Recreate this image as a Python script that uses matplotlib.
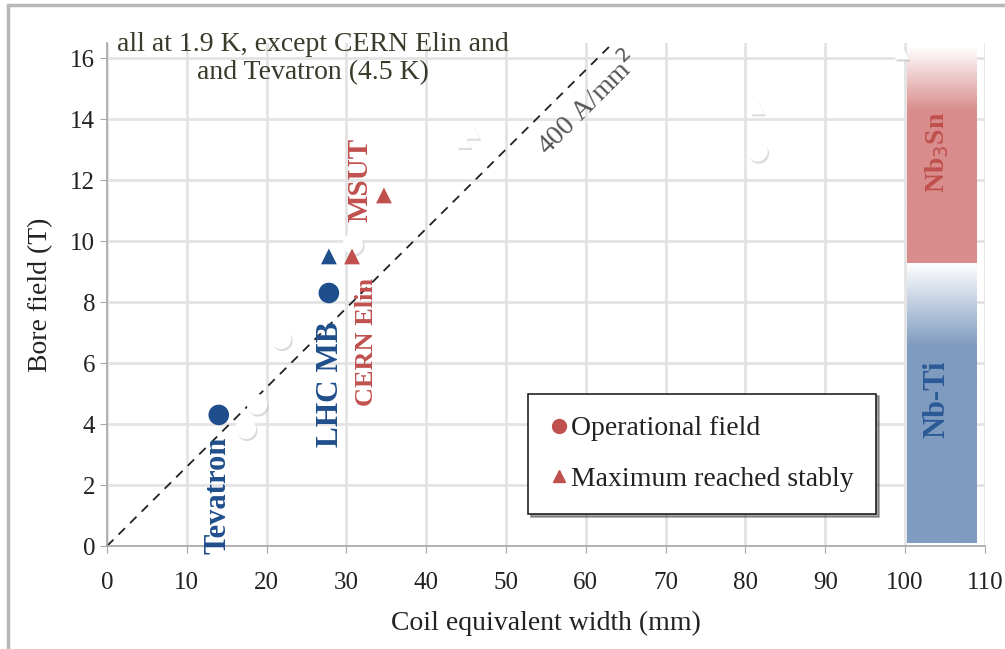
import matplotlib
matplotlib.use("Agg")
import matplotlib.pyplot as plt
import matplotlib.patheffects as pe
from matplotlib.colors import LinearSegmentedColormap
from matplotlib.lines import Line2D
from matplotlib.patches import Rectangle
import numpy as np

plt.rcParams['font.family'] = ['Liberation Serif', 'DejaVu Serif']

# highlighted magnets (coil width mm, bore field T)
op_x = [14.0, 27.8]          # Tevatron, LHC MB operational field
op_y = [4.3, 8.3]
op_col = ['#1F4E8C', '#1F4E8C']
max_x = [27.8, 30.7, 34.7]   # LHC MB, CERN Elin, MSUT max reached
max_y = [9.5, 9.5, 11.5]
max_col = ['#1F4E8C', '#C0504D', '#C0504D']

# faded (other magnets)
ghost_circ_x = [17.4, 18.8, 21.8, 30.8, 81.5]
ghost_circ_y = [3.85, 4.65, 6.8, 9.9, 12.95]
ghost_tri_x = [44.7, 45.8, 81.5, 99.6]
ghost_tri_y = [13.3, 13.6, 14.4, 16.2]

# 400 A/mm2 line
line_x = [0, 63]
line_y = [0, 16.4]

labels = ['Tevatron', 'LHC MB', 'CERN Elin', 'MSUT']
label_x = [13.9, 28.0, 32.5, 31.7]
label_y = [1.65, 5.3, 6.7, 12.0]
label_size = [22, 22.5, 19, 21]
label_col = ['#1F4E8C', '#1F4E8C', '#C0504D', '#C0504D']

# superconductor ranges
nbti_range = [0.1, 9.3]
nb3sn_range = [9.3, 16.4]
bar_x = [100.3, 109.0]

fig = plt.figure(figsize=(10.05, 6.49), dpi=100)
ax = fig.add_axes([0.1065, 0.1587, 0.8735, 0.775])

fig.patches.append(Rectangle((0.008, -0.1), 1.2, 1.092, transform=fig.transFigure,
                             fill=False, edgecolor='#b8b8b8', lw=2.5))

ax.set_xticks(range(0, 111, 10))
ax.set_yticks(range(0, 17, 2))
ax.grid(True, color='#e3e3e3', lw=2)
ax.set_axisbelow(True)
for s in ['top', 'right']:
    ax.spines[s].set_visible(False)
for s in ['left', 'bottom']:
    ax.spines[s].set_color('#a6a6a6')
    ax.spines[s].set_linewidth(1.2)
ax.tick_params(colors='#a6a6a6', labelcolor='#222222', labelsize=18, length=5)
ax.tick_params(axis='x', pad=14)
ax.set_xlabel('Coil equivalent width (mm)', fontsize=20, color='#222222', labelpad=12)
ax.set_ylabel('Bore field (T)', fontsize=20, color='#222222', labelpad=12)

# gradient bars
def gbar(y0, y1, c, fade):
    v = np.linspace(0, 1, 200)
    v = np.clip((v - (1 - fade)) / fade, 0, 1)
    ax.imshow(v[:, None], extent=[bar_x[0], bar_x[1], y0, y1], origin='lower',
              aspect='auto', cmap=LinearSegmentedColormap.from_list('g', [c, 'white']),
              zorder=1)

gbar(nbti_range[0], nbti_range[1], '#7f9bbf', 0.3)
gbar(nb3sn_range[0], nb3sn_range[1], '#d98c8c', 0.3)
ax.set_xlim(0, 110)
ax.set_ylim(0, 16.5)
ax.text(104.0, 4.8, 'Nb-Ti', rotation=90, ha='center', va='center',
        fontsize=22, fontweight='bold', color='#2C5A96')
ax.text(104.0, 12.9, 'Nb$_3$Sn', rotation=90, ha='center', va='center',
        fontsize=20, fontweight='bold', color='#C0504D')

ax.plot(line_x, line_y, ls=(0, (5, 4)), color='#222222', lw=1.3, zorder=2)
ax.text(60.3, 14.5, '400 A/mm$^2$', rotation=45, ha='center', va='center',
        fontsize=20, color='#555555')

shadow = [pe.SimplePatchShadow(offset=(1, -1.5), shadow_rgbFace='#999999', alpha=0.35),
          pe.Normal()]
ax.scatter(ghost_circ_x, ghost_circ_y, s=220, c='white', edgecolors='none',
           zorder=3, path_effects=shadow)
ax.scatter(ghost_tri_x, ghost_tri_y, s=110, marker='^', c='white', edgecolors='none',
           zorder=3, path_effects=shadow)

ax.scatter(op_x, op_y, s=220, c=op_col, edgecolors='none', zorder=4)
ax.scatter(max_x, max_y, s=130, marker='^', c=max_col, edgecolors='none', zorder=4)

for t, x, y, fs, c in zip(labels, label_x, label_y, label_size, label_col):
    ax.text(x, y, t, rotation=90, ha='center', va='center', fontsize=fs,
            fontweight='bold', color=c, zorder=5)

ax.text(25.8, 16.0, 'all at 1.9 K, except CERN Elin and\nand Tevatron (4.5 K)',
        ha='center', va='center', fontsize=20, color='#3a3a2a', linespacing=1.15)

handles = [Line2D([], [], marker='o', ls='', color='#C0504D', markersize=10),
           Line2D([], [], marker='^', ls='', color='#C0504D', markersize=9)]
leg = ax.legend(handles, ['Operational field', 'Maximum reached stably'],
                loc='upper left', bbox_to_anchor=(52.8, 5.0),
                bbox_transform=ax.transData, fontsize=20, frameon=True,
                fancybox=False, shadow=True, edgecolor='#222222',
                handlelength=0.6, handletextpad=0.15, labelspacing=0.9,
                borderpad=0.8, borderaxespad=0)
leg.get_frame().set_linewidth(1.2)
for t in leg.get_texts():
    t.set_color('#222222')

fig.savefig('out.png', dpi=100)
